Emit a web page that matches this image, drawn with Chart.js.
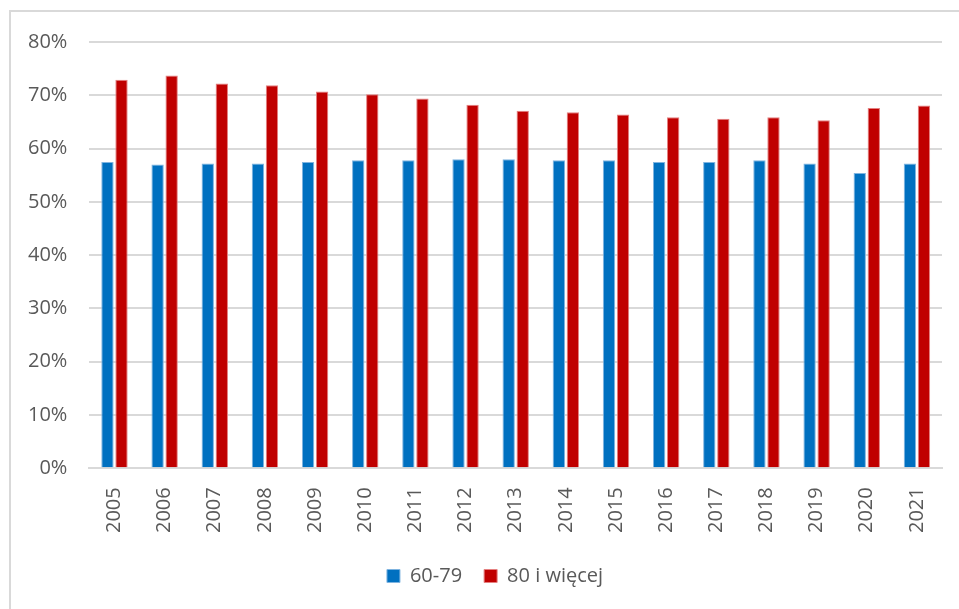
<!DOCTYPE html>
<html>
<head>
<meta charset="utf-8">
<script src="https://cdn.jsdelivr.net/npm/chart.js@4"></script>
<style>
    html, body { margin: 0; padding: 0; background: #fff; }
    #frame {
        position: absolute; left: 9px; top: 10px;
        width: 1000px; height: 700px;
        border-left: 2px solid #d9d9d9; border-top: 2px solid #d9d9d9;
    }
    #wrap { position: absolute; left: 0; top: 0; width: 959px; height: 609px; }
</style>
</head>
<body>
<div id="frame"></div>
<div id="wrap"><canvas id="chart"></canvas></div>
<script>
// 年（カテゴリ）
const years = ['2005', '2006', '2007', '2008', '2009', '2010', '2011', '2012', '2013',
    '2014', '2015', '2016', '2017', '2018', '2019', '2020', '2021'];

// 系列データ（%）
const age6079 = [57.5, 57.0, 57.2, 57.2, 57.5, 57.8, 57.8, 58.0, 58.0,
    57.8, 57.8, 57.5, 57.5, 57.8, 57.2, 55.4, 57.2];
const age80plus = [72.9, 73.7, 72.2, 71.9, 70.7, 70.2, 69.4, 68.2, 67.1,
    66.8, 66.4, 65.9, 65.6, 65.9, 65.3, 67.6, 68.1];

const seriesLabels = ['60-79', '80 i więcej'];
const yTicks = [0, 10, 20, 30, 40, 50, 60, 70, 80];

const textColor = '#595959';
const gridColor = '#d9d9d9';

// 凡例を少し右へ
const legendShift = {
    id: 'legendShift',
    beforeDraw(chart) {
        const lg = chart.legend;
        if (lg && !lg._shifted) {
            lg.left += 21;
            lg.right += 21;
            lg._shifted = true;
        }
    },
};

const ctx = document.getElementById('chart').getContext('2d');
new Chart(ctx, {
    type: 'bar',
    data: {
        labels: years,
        datasets: [
            {
                label: seriesLabels[0],
                data: age6079,
                backgroundColor: '#0070c0',
                borderColor: '#7fb4e0',
                borderWidth: 1,
                categoryPercentage: 0.56,
                barPercentage: 0.88,
            },
            {
                label: seriesLabels[1],
                data: age80plus,
                backgroundColor: '#c00000',
                borderColor: '#e58080',
                borderWidth: 1,
                categoryPercentage: 0.56,
                barPercentage: 0.88,
            },
        ],
    },
    options: {
        responsive: true,
        maintainAspectRatio: false,
        animation: false,
        layout: {
            padding: { left: 6, right: 17, top: 42, bottom: 13 },
        },
        plugins: {
            legend: {
                position: 'bottom',
                labels: {
                    color: textColor,
                    font: { family: 'Open Sans', size: 20 },
                    boxWidth: 13,
                    boxHeight: 13,
                    padding: 22,
                },
            },
            tooltip: { enabled: false },
        },
        scales: {
            x: {
                grid: { display: false },
                border: { color: gridColor, width: 2 },
                ticks: {
                    color: textColor,
                    font: { family: 'Open Sans', size: 20 },
                    maxRotation: 90,
                    minRotation: 90,
                    padding: 11,
                },
            },
            y: {
                min: 0,
                max: 80,
                afterBuildTicks(axis) {
                    axis.ticks = yTicks.map(v => ({ value: v }));
                },
                grid: { color: gridColor, lineWidth: 2, drawTicks: false },
                border: { display: false },
                ticks: {
                    color: textColor,
                    font: { family: 'Open Sans', size: 20 },
                    padding: 22,
                    callback: v => v + '%',
                },
            },
        },
    },
    plugins: [legendShift],
});
</script>
</body>
</html>
